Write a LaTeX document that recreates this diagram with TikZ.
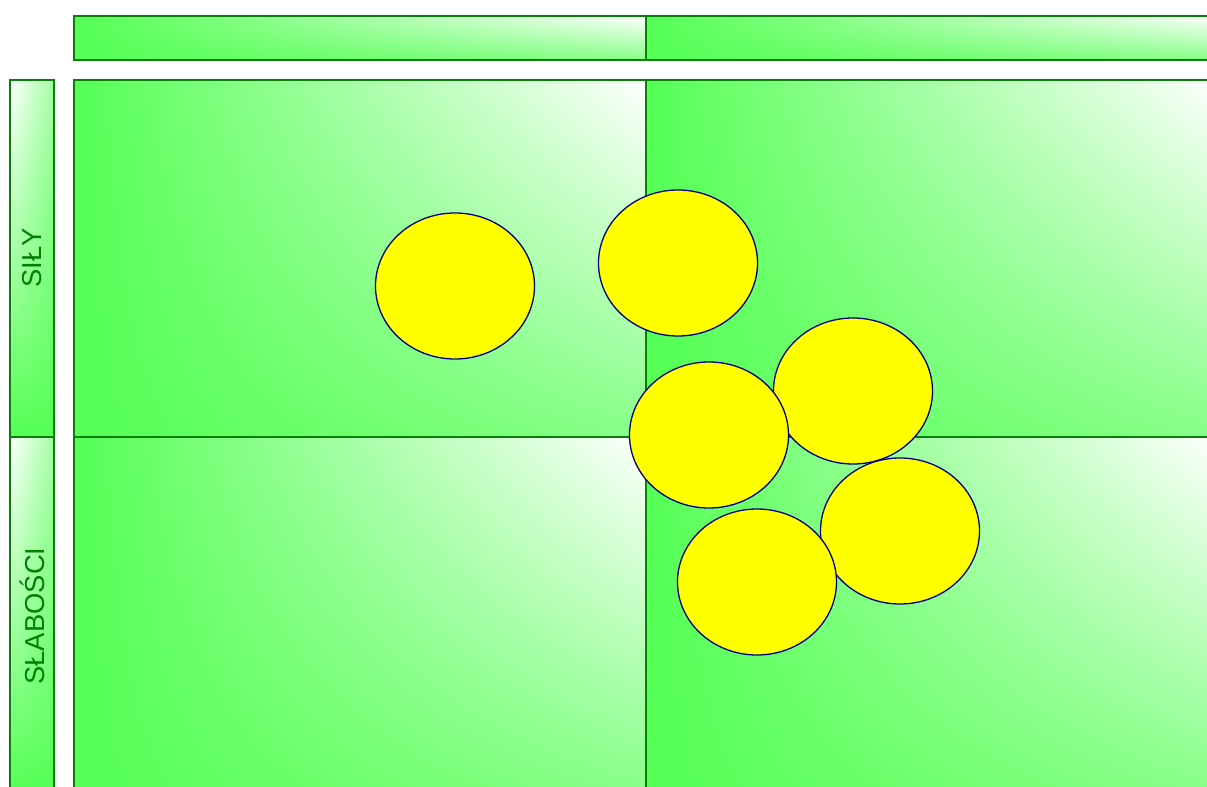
\documentclass[tikz,border=0pt]{standalone}
\usepackage{fontspec}
\setmainfont{Liberation Sans}
\usetikzlibrary{shapes.geometric,fadings}
\definecolor{gbase}{RGB}{85,255,85}
\definecolor{gborder}{RGB}{10,128,10}
\definecolor{gtext}{RGB}{0,128,0}
\definecolor{ystroke}{RGB}{0,0,128}
\definecolor{yfill}{RGB}{255,255,0}
\tikzfading[name=fadev, top color=transparent!100, bottom color=transparent!30]
\tikzfading[name=fadeh, left color=transparent!100, right color=transparent!45]
\tikzset{
  cellborder/.style={draw=gborder, line width=1.5bp},
  blob/.style={ellipse, draw=ystroke, fill=yfill, line width=1.3bp,
    minimum width=159bp, minimum height=146bp, inner sep=0pt},
  sidelabel/.style={rotate=90, text=gtext, font=\fontsize{27.5}{32}\selectfont, inner sep=0pt}
}
% cells whose glow sits at the top-right corner
\newcommand\cellH[4]{%
  \shade[left color=gbase, right color=white] (#1,#2) rectangle (#3,#4);
  \fill[gbase, path fading=fadev] (#1,#2) rectangle (#3,#4);
  \draw[cellborder] (#1,#2) rectangle (#3,#4);
}
% side bars whose glow sits at the top-left corner
\newcommand\cellV[4]{%
  \shade[top color=white, bottom color=gbase] (#1,#2) rectangle (#3,#4);
  \fill[gbase, path fading=fadeh] (#1,#2) rectangle (#3,#4);
  \draw[cellborder] (#1,#2) rectangle (#3,#4);
}
\begin{document}
\begin{tikzpicture}[x=1bp, y=-1bp]
\useasboundingbox[fill=white] (0,0) rectangle (1207,787);
% top bars
\cellH{74}{16}{646}{60}
\cellH{646}{16}{1218}{60}
% main cells
\cellH{74}{80}{646}{437}
\cellH{646}{80}{1218}{437}
\cellH{74}{437}{646}{795}
\cellH{646}{437}{1218}{795}
% left bars
\cellV{10}{80}{54}{437}
\cellV{10}{437}{54}{795}
\node[sidelabel] (sily) at (32,258) {SIŁY};
\node[sidelabel] (slabosci) at (32,616) {SŁABOŚCI};
% circles
\node[blob] (c1) at (455,286) {};
\node[blob] (c2) at (678,263) {};
\node[blob] (c3) at (853,391) {};
\node[blob] (c4) at (709,435) {};
\node[blob] (c5) at (900,531) {};
\node[blob] (c6) at (757,582) {};
\end{tikzpicture}
\end{document}
